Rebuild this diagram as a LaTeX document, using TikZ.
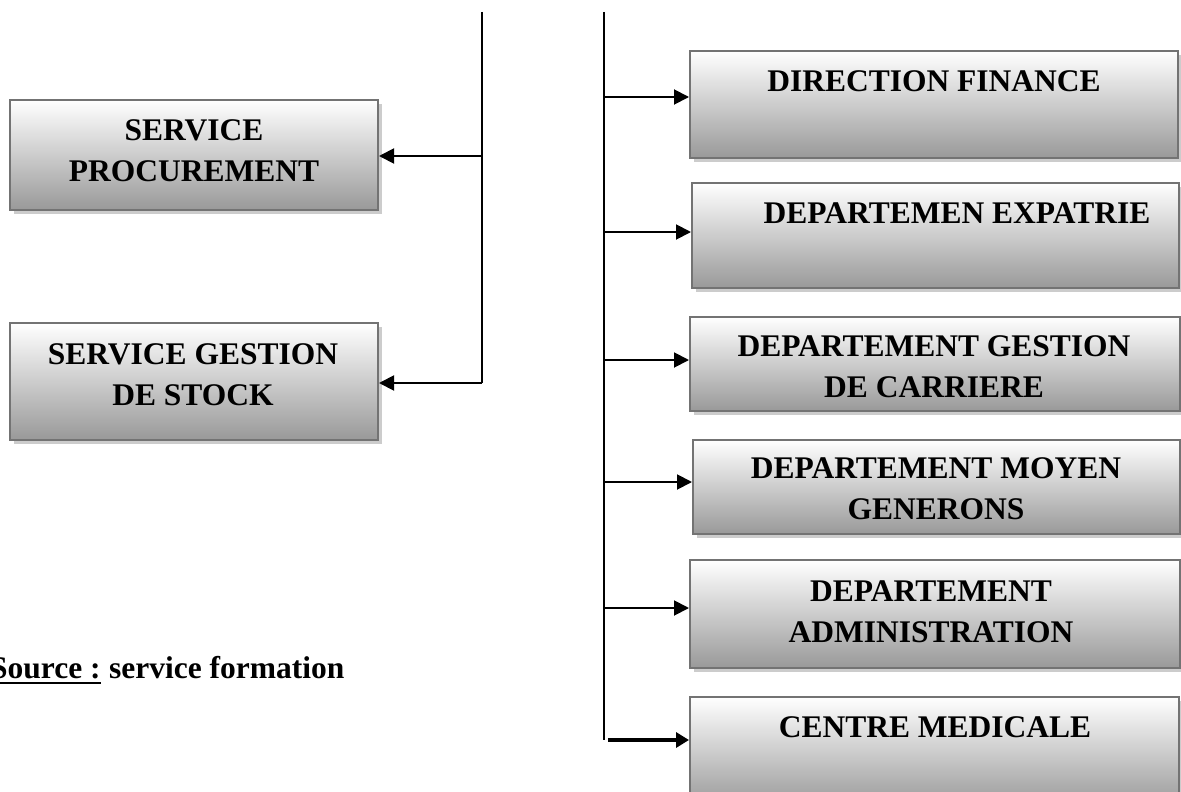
\documentclass[tikz,border=0pt]{standalone}
\usepackage{fontspec}
\setmainfont{Liberation Serif}
\usetikzlibrary{arrows.meta,shadows}
\tikzset{
  box/.style={rectangle, draw=black!55, line width=2pt, top color=white, bottom color=black!40,
    drop shadow={shadow xshift=4pt, shadow yshift=-4pt, fill=black!20, opacity=1},
    inner sep=0pt},
  lbl/.style={font=\bfseries\fontsize{31.5}{41}\selectfont, align=center, inner sep=0pt},
  trunk/.style={line width=1.8pt, draw=black},
  conn/.style={line width=1.9pt, -{Triangle[length=15pt,width=15pt]}},
  thickconn/.style={line width=3.5pt, -{Triangle[length=13pt,width=15pt]}},
}
\begin{document}
\begin{tikzpicture}[x=1pt,y=-1pt]
\useasboundingbox (0,0) rectangle (1181,792);
% boxes
\node[box, minimum width=368pt, minimum height=110pt] (L1) at (194,155) {};
\node[box, minimum width=368pt, minimum height=117pt] (L2) at (194,381.5) {};
\node[box, minimum width=488pt, minimum height=107pt] (R1) at (934,104.5) {};
\node[box, minimum width=487pt, minimum height=105pt] (R2) at (935.5,235.5) {};
\node[box, minimum width=490pt, minimum height=94pt] (R3) at (935,364) {};
\node[box, minimum width=487pt, minimum height=94pt] (R4) at (936.5,487) {};
\node[box, minimum width=490pt, minimum height=108pt] (R5) at (935,614) {};
\node[box, minimum width=489pt, minimum height=110pt] (R6) at (934.5,752) {};
% labels
\node[lbl] (tL1) at (194,151) {SERVICE\\PROCUREMENT};
\node[lbl] (tL2) at (193,375) {SERVICE GESTION\\DE STOCK};
\node[lbl, anchor=base] (tR1) at (934,92) {DIRECTION FINANCE};
\node[lbl, anchor=base] (tR2) at (957,223) {DEPARTEMEN EXPATRIE};
\node[lbl] (tR3) at (934,367) {DEPARTEMENT GESTION\\DE CARRIERE};
\node[lbl] (tR4) at (936,489) {DEPARTEMENT MOYEN\\GENERONS};
\node[lbl] (tR5) at (931,612) {DEPARTEMENT\\ADMINISTRATION};
\node[lbl, anchor=base] (tR6) at (935,737) {CENTRE MEDICALE};
\node[lbl, anchor=base west] (src1) at (-10,678) {Source :};
\node[lbl, anchor=base west] (src2) at ([xshift=8pt]src1.base east) {service formation};
\draw[line width=2.5pt] ([yshift=-5pt]src1.base west) -- ([yshift=-5pt]src1.base east);
% trunks
\coordinate (ltop) at (482,12);
\coordinate (lbot) at (482,383);
\coordinate (rtop) at (604,12);
\coordinate (rbot) at (604,740);
\draw[trunk] (ltop) -- (lbot);
\draw[trunk] (rtop) -- (rbot);
% left connectors
\coordinate (l1) at (482,156);
\draw[conn] (l1) -- (l1 -| L1.east);
\draw[conn] (lbot) -- (lbot -| L2.east);
% right connectors
\coordinate (r1) at (604,97);
\coordinate (r2) at (604,232);
\coordinate (r3) at (604,360);
\coordinate (r4) at (604,482);
\coordinate (r5) at (604,608);
\coordinate (r6) at (608,740);
\draw[conn] (r1) -- (r1 -| R1.west);
\draw[conn] (r2) -- (r2 -| R2.west);
\draw[conn] (r3) -- (r3 -| R3.west);
\draw[conn] (r4) -- (r4 -| R4.west);
\draw[conn] (r5) -- (r5 -| R5.west);
\draw[thickconn] (r6) -- (r6 -| R6.west);
\end{tikzpicture}
\end{document}
